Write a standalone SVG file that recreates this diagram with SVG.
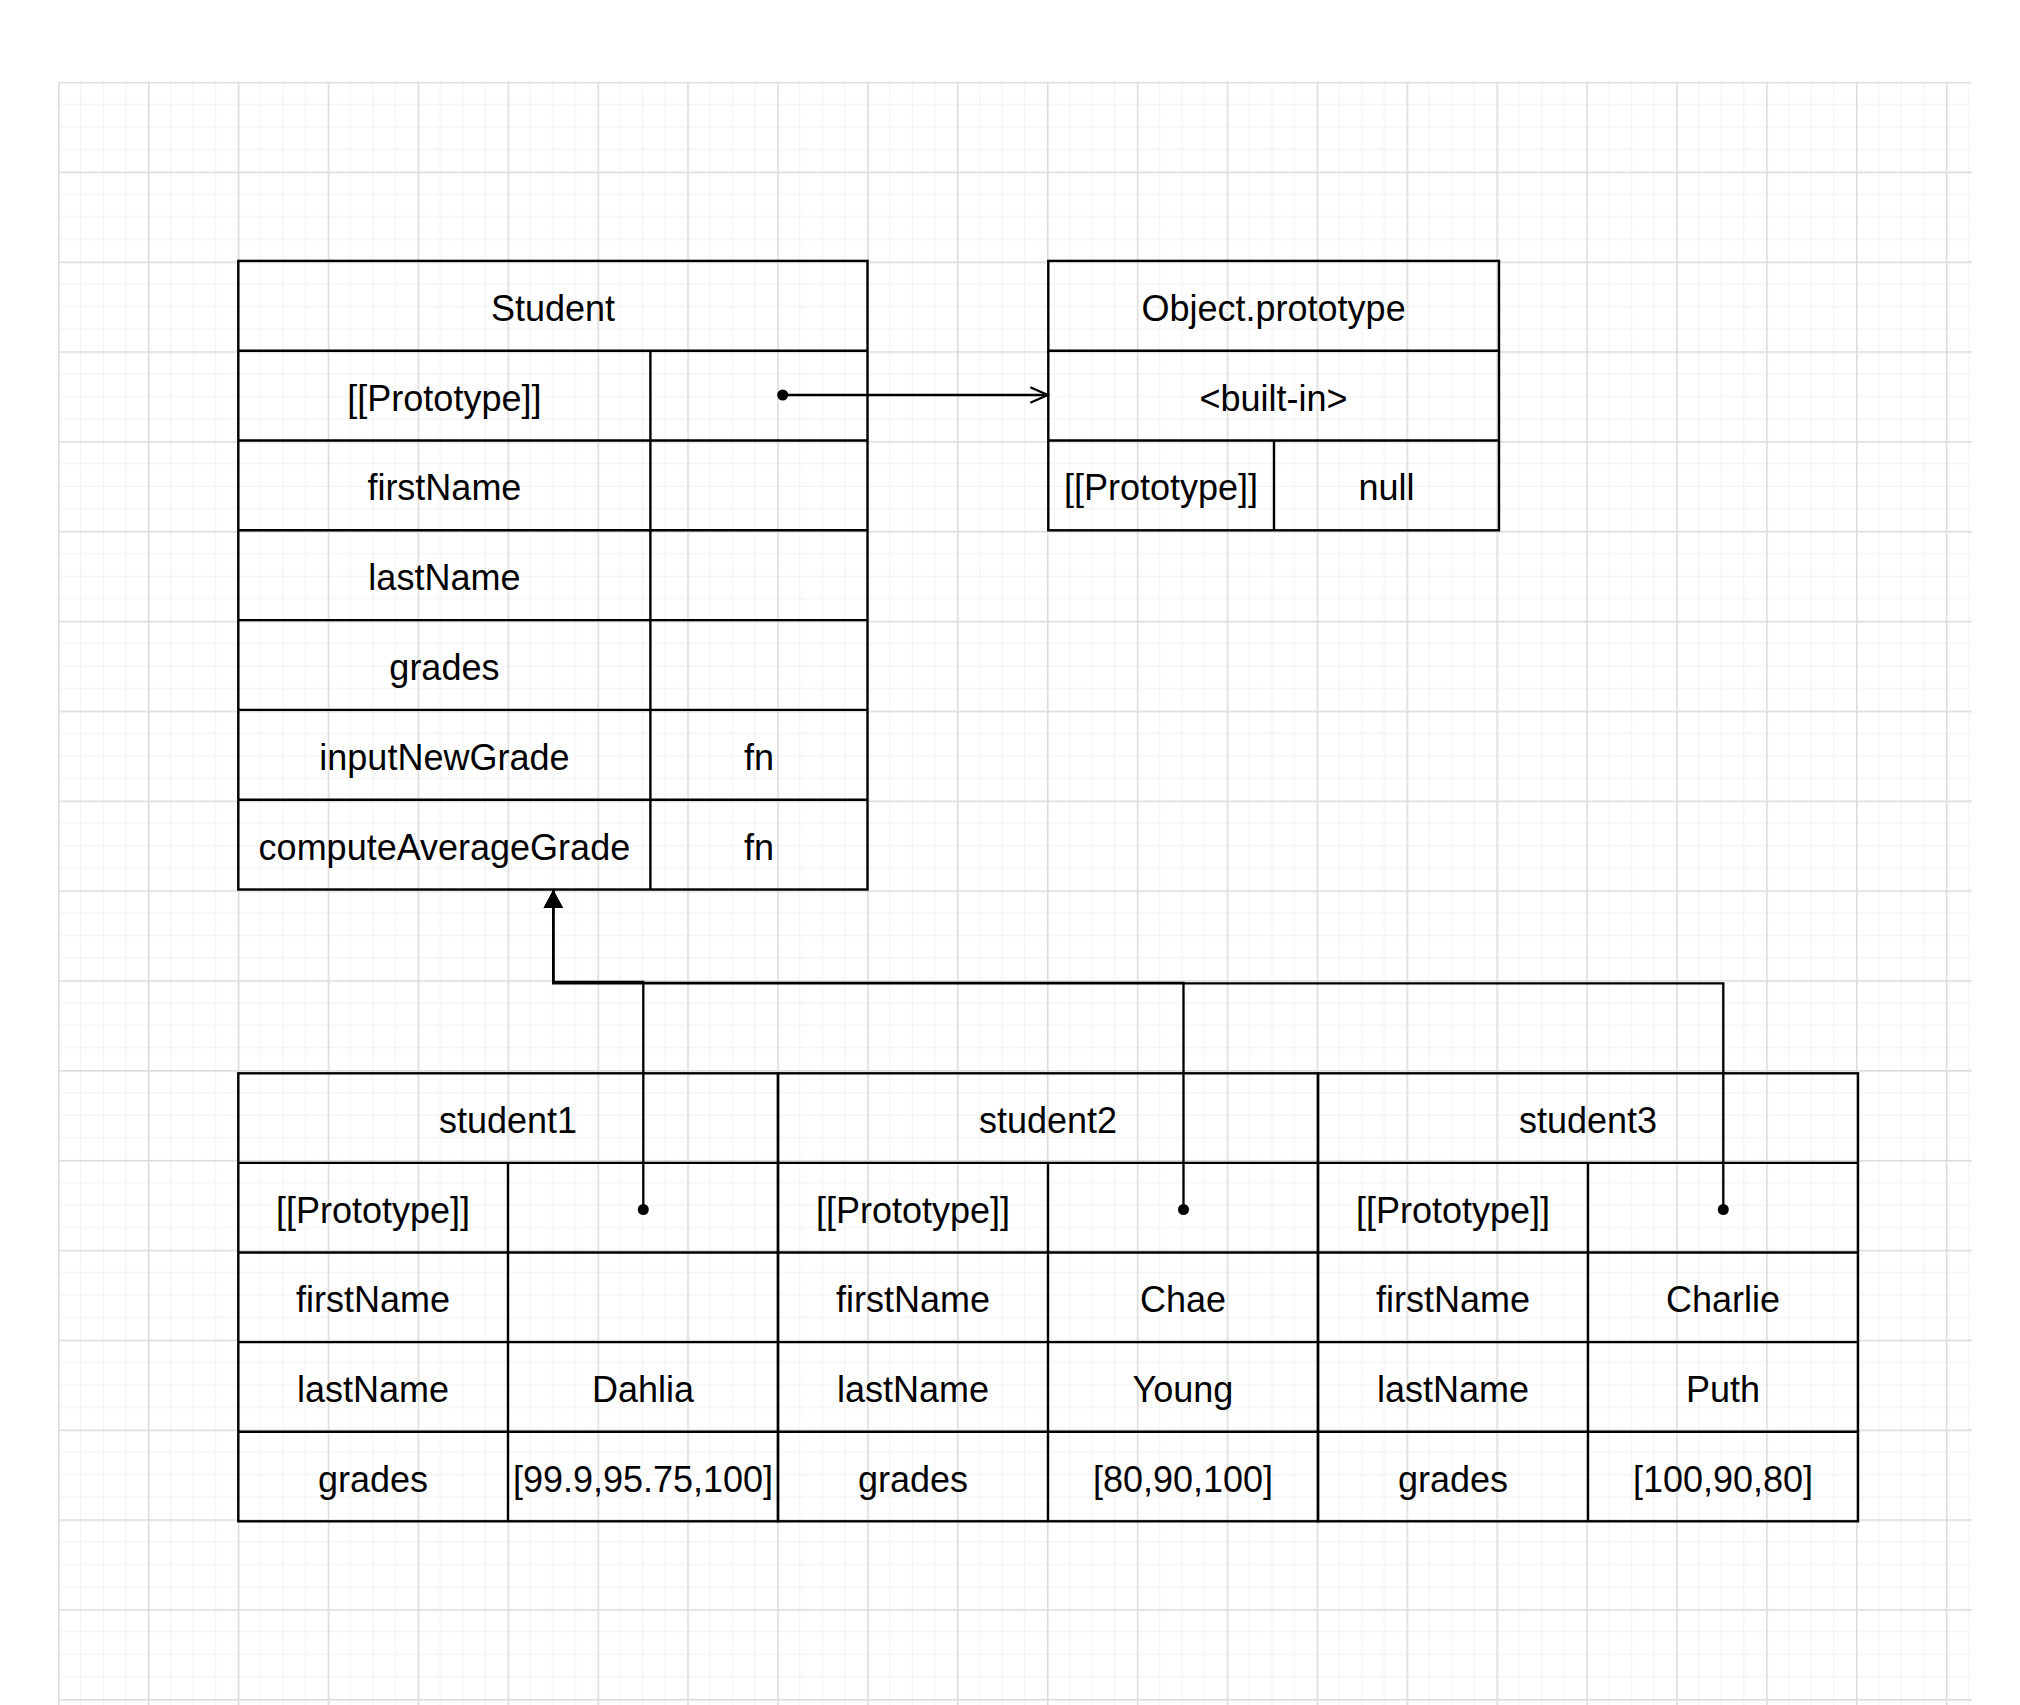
<svg xmlns="http://www.w3.org/2000/svg" width="2020" height="1705" viewBox="0 0 2020 1705">
  <style>
    .cell { fill: none; stroke: #000; stroke-width: 2.4; }
    .t { font-family: "Liberation Sans", Arial, sans-serif; font-size: 36px; fill: #000; text-anchor: middle; }
    .edge { fill: none; stroke: #000; stroke-width: 2.3; }
  </style>
  <defs>
    <pattern id="grid" x="58" y="81.7" width="89.9" height="89.85" patternUnits="userSpaceOnUse">
      <rect x="22.2" y="0" width="1" height="89.85" fill="#f1f1f1"/>
      <rect x="44.7" y="0" width="1" height="89.85" fill="#f1f1f1"/>
      <rect x="67.2" y="0" width="1" height="89.85" fill="#f1f1f1"/>
      <rect x="0" y="22.2" width="89.9" height="1" fill="#f1f1f1"/>
      <rect x="0" y="44.7" width="89.9" height="1" fill="#f1f1f1"/>
      <rect x="0" y="67.2" width="89.9" height="1" fill="#f1f1f1"/>
      <rect x="0" y="0" width="1.6" height="89.85" fill="#dcdcdc"/>
      <rect x="0" y="0" width="89.9" height="1.6" fill="#dcdcdc"/>
    </pattern>
    <marker id="block" viewBox="0 0 20 20" refX="19" refY="10" markerWidth="20" markerHeight="20" markerUnits="userSpaceOnUse" orient="auto">
      <path d="M1,0.3 L19,10 L1,19.7 Z" fill="#000"/>
    </marker>
    <marker id="open" viewBox="0 0 22 20" refX="20" refY="10" markerWidth="22" markerHeight="20" markerUnits="userSpaceOnUse" orient="auto">
      <path d="M2,2.3 L19.5,10 L2,17.7" fill="none" stroke="#000" stroke-width="2.3"/>
    </marker>
    <marker id="dot" viewBox="0 0 14 14" refX="7" refY="7" markerWidth="14" markerHeight="14" markerUnits="userSpaceOnUse" orient="auto">
      <circle cx="7" cy="7" r="5.5" fill="#000"/>
    </marker>
  </defs>

  <rect x="0" y="0" width="2020" height="1705" fill="#fff"/>
  <rect x="58" y="81.7" width="1914" height="1624" fill="url(#grid)"/>

  <g id="Student">
    <rect class="cell" x="238.3" y="260.9" width="629.2" height="628.6"/>
    <path class="cell" d="M238.3 350.7H867.5M238.3 440.5H867.5M238.3 530.3H867.5M238.3 620.1H867.5M238.3 709.9H867.5M238.3 799.7H867.5M650.4 350.7V889.5"/>
    <text class="t" x="553" y="320.8">Student</text>
    <text class="t" x="444.4" y="410.6">[[Prototype]]</text>
    <text class="t" x="444.4" y="500.4">firstName</text>
    <text class="t" x="444.4" y="590.2">lastName</text>
    <text class="t" x="444.4" y="680">grades</text>
    <text class="t" x="444.4" y="769.8">inputNewGrade</text>
    <text class="t" x="759" y="769.8">fn</text>
    <text class="t" x="444.4" y="859.6">computeAverageGrade</text>
    <text class="t" x="759" y="859.6">fn</text>
  </g>

  <g id="ObjectPrototype">
    <rect class="cell" x="1048.3" y="260.9" width="450.7" height="269.4"/>
    <path class="cell" d="M1048.3 350.7H1499M1048.3 440.5H1499M1274 440.5V530.3"/>
    <text class="t" x="1273.6" y="320.8">Object.prototype</text>
    <text class="t" x="1273.6" y="410.6">&lt;built-in&gt;</text>
    <text class="t" x="1161" y="500.4">[[Prototype]]</text>
    <text class="t" x="1386.5" y="500.4">null</text>
  </g>

  <g id="student1">
    <rect class="cell" x="238.3" y="1073.3" width="539.7" height="448"/>
    <path class="cell" d="M238.3 1162.9H778M238.3 1252.5H778M238.3 1342.1H778M238.3 1431.7H778M508 1162.9V1521.3"/>
    <text class="t" x="508" y="1133.1">student1</text>
    <text class="t" x="373" y="1222.7">[[Prototype]]</text>
    <text class="t" x="373" y="1312.3">firstName</text>
    <text class="t" x="373" y="1401.9">lastName</text>
    <text class="t" x="643" y="1401.9">Dahlia</text>
    <text class="t" x="373" y="1491.5">grades</text>
    <text class="t" x="643" y="1491.5">[99.9,95.75,100]</text>
  </g>

  <g id="student2">
    <rect class="cell" x="778" y="1073.3" width="540" height="448"/>
    <path class="cell" d="M778 1162.9H1318M778 1252.5H1318M778 1342.1H1318M778 1431.7H1318M1048 1162.9V1521.3"/>
    <text class="t" x="1048" y="1133.1">student2</text>
    <text class="t" x="913" y="1222.7">[[Prototype]]</text>
    <text class="t" x="913" y="1312.3">firstName</text>
    <text class="t" x="1183" y="1312.3">Chae</text>
    <text class="t" x="913" y="1401.9">lastName</text>
    <text class="t" x="1183" y="1401.9">Young</text>
    <text class="t" x="913" y="1491.5">grades</text>
    <text class="t" x="1183" y="1491.5">[80,90,100]</text>
  </g>

  <g id="student3">
    <rect class="cell" x="1318" y="1073.3" width="540" height="448"/>
    <path class="cell" d="M1318 1162.9H1858M1318 1252.5H1858M1318 1342.1H1858M1318 1431.7H1858M1588 1162.9V1521.3"/>
    <text class="t" x="1588" y="1133.1">student3</text>
    <text class="t" x="1453" y="1222.7">[[Prototype]]</text>
    <text class="t" x="1453" y="1312.3">firstName</text>
    <text class="t" x="1723" y="1312.3">Charlie</text>
    <text class="t" x="1453" y="1401.9">lastName</text>
    <text class="t" x="1723" y="1401.9">Puth</text>
    <text class="t" x="1453" y="1491.5">grades</text>
    <text class="t" x="1723" y="1491.5">[100,90,80]</text>
  </g>

  <g id="connectors">
    <path class="edge" d="M782.7 395H1048.3" marker-start="url(#dot)" marker-end="url(#open)"/>
    <path class="edge" d="M643.3 1209.5V982H553.3V890" marker-start="url(#dot)" marker-end="url(#block)"/>
    <path class="edge" d="M1183.5 1209.5V982.8H553.3V890" marker-start="url(#dot)" marker-end="url(#block)"/>
    <path class="edge" d="M1723.3 1209.5V983.4H553.3V890" marker-start="url(#dot)" marker-end="url(#block)"/>
  </g>
</svg>
